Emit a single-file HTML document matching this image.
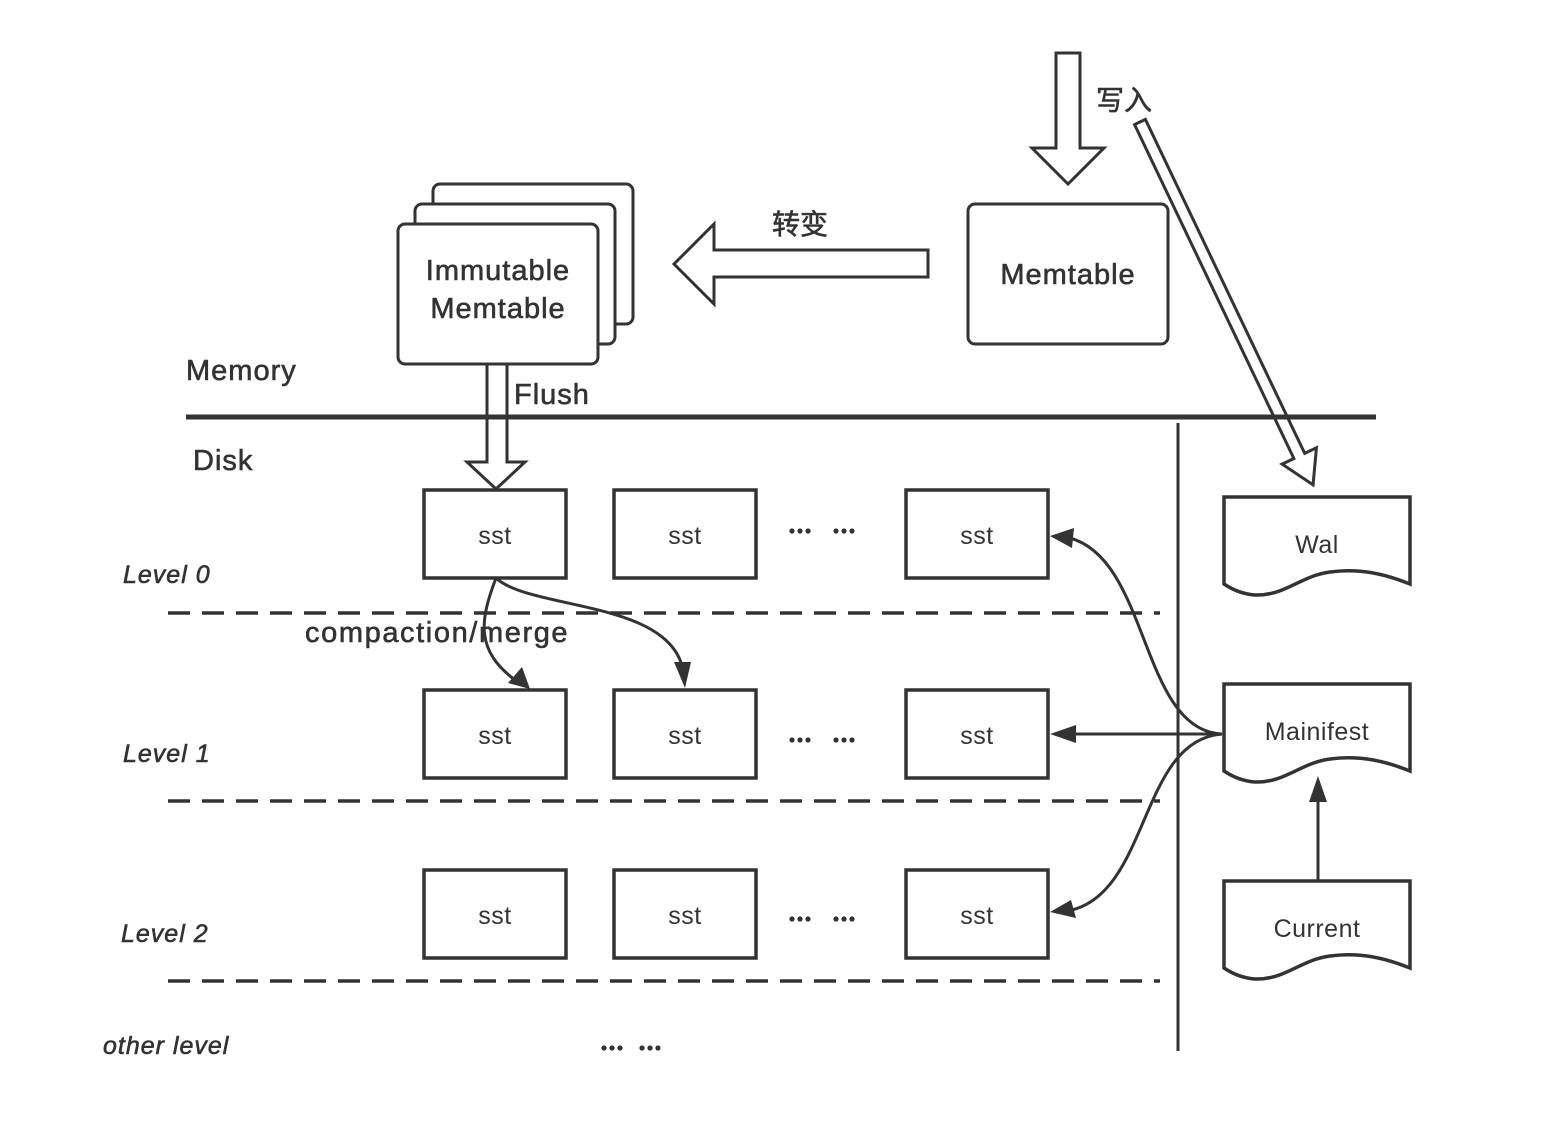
<!DOCTYPE html>
<html><head><meta charset="utf-8"><style>
html,body{margin:0;padding:0;background:#fff;}
svg{display:block;}
text{font-family:"Liberation Sans","Noto Sans CJK SC",sans-serif;fill:#333;}
.b{stroke:#333;stroke-width:0.6px;}
</style></head><body>
<svg width="1542" height="1124" viewBox="0 0 1542 1124" xmlns="http://www.w3.org/2000/svg">
<g fill="none" stroke="#333" stroke-width="3">
<polygon points="1056,53 1080,53 1080,148 1104,148 1068,184 1032,148 1056,148" fill="#fff"/>
<g transform="translate(1140,122) rotate(64.5)">
<polygon points="0,-6 370,-6 370,-19 402,0 370,19 370,6 0,6" fill="#fff"/>
</g>
<rect x="968" y="204" width="200" height="140" rx="7" fill="#fff"/>
<rect x="433" y="184" width="200" height="140" rx="7" fill="#fff"/>
<rect x="415" y="204" width="200" height="140" rx="7" fill="#fff"/>
<rect x="398" y="224" width="200" height="140" rx="7" fill="#fff"/>
<polygon points="928,250 714,250 714,224 674,264 714,304 714,277 928,277" fill="#fff"/>
<polygon points="487,364 507,364 507,462 525,462 496,489 467,462 487,462" fill="#fff"/>
<line x1="186" y1="417" x2="1376" y2="417" stroke-width="5"/>
<line x1="1178" y1="423" x2="1178" y2="1051"/>
<g stroke-dasharray="22,12" stroke-width="3.5">
<line x1="168" y1="613" x2="1160" y2="613"/>
<line x1="168" y1="801" x2="1160" y2="801"/>
<line x1="168" y1="981" x2="1160" y2="981"/>
</g>
<g stroke-width="3.5">
<rect x="424" y="490" width="142" height="88"/>
<rect x="614" y="490" width="142" height="88"/>
<rect x="906" y="490" width="142" height="88"/>
<rect x="424" y="690" width="142" height="88"/>
<rect x="614" y="690" width="142" height="88"/>
<rect x="906" y="690" width="142" height="88"/>
<rect x="424" y="870" width="142" height="88"/>
<rect x="614" y="870" width="142" height="88"/>
<rect x="906" y="870" width="142" height="88"/>
</g>
<path d="M1224,497 H1410 V584 C1385,574 1360,568 1330,572 C1300,576 1285,596 1255,595 C1240,594 1230,588 1224,584 Z" stroke-width="3.5"/>
<path d="M1224,684 H1410 V771 C1385,761 1360,755 1330,759 C1300,763 1285,783 1255,782 C1240,781 1230,775 1224,771 Z" stroke-width="3.5"/>
<path d="M1224,881 H1410 V968 C1385,958 1360,952 1330,956 C1300,960 1285,980 1255,979 C1240,978 1230,972 1224,968 Z" stroke-width="3.5"/>
<line x1="1318" y1="881" x2="1318" y2="800"/>
<line x1="1222" y1="734" x2="1070" y2="734"/>
<path d="M1222,734 C1140,730 1150,560 1070,538"/>
<path d="M1222,734 C1140,740 1150,890 1072,910"/>
<path d="M496,578 C480,620 475,650 515,680"/>
<path d="M496,578 C530,610 670,600 683,670"/>
</g>
<g fill="#333">
<polygon points="1318,776 1309,802 1327,802"/>
<polygon points="1050,734 1076,725 1076,743"/>
<polygon points="1050,536 1074,528 1072,548"/>
<polygon points="1050,912 1071,900 1076,918"/>
<polygon points="530,689 508,683 522,667"/>
<polygon points="685,688 674,662 691,662"/>
<circle cx="792" cy="531" r="2.6"/><circle cx="800" cy="531" r="2.6"/><circle cx="808" cy="531" r="2.6"/>
<circle cx="836" cy="531" r="2.6"/><circle cx="844" cy="531" r="2.6"/><circle cx="852" cy="531" r="2.6"/>
<circle cx="792" cy="740" r="2.6"/><circle cx="800" cy="740" r="2.6"/><circle cx="808" cy="740" r="2.6"/>
<circle cx="836" cy="740" r="2.6"/><circle cx="844" cy="740" r="2.6"/><circle cx="852" cy="740" r="2.6"/>
<circle cx="792" cy="919" r="2.6"/><circle cx="800" cy="919" r="2.6"/><circle cx="808" cy="919" r="2.6"/>
<circle cx="836" cy="919" r="2.6"/><circle cx="844" cy="919" r="2.6"/><circle cx="852" cy="919" r="2.6"/>
<circle cx="604" cy="1048" r="2.6"/><circle cx="612" cy="1048" r="2.6"/><circle cx="620" cy="1048" r="2.6"/>
<circle cx="642" cy="1048" r="2.6"/><circle cx="650" cy="1048" r="2.6"/><circle cx="658" cy="1048" r="2.6"/>
</g>
<g font-size="29" text-anchor="middle" class="b" letter-spacing="1">
<text x="498" y="280">Immutable</text>
<text x="498" y="318">Memtable</text>
<text x="1068" y="284">Memtable</text>
<text x="800" y="234" font-size="28" letter-spacing="0">转变</text>
<text x="1124" y="110" font-size="28" letter-spacing="0">写入</text>
</g>
<g font-size="29" class="b" letter-spacing="1">
<text x="186" y="380">Memory</text>
<text x="193" y="470">Disk</text>
<text x="514" y="404">Flush</text>
<text x="305" y="642" letter-spacing="1.6">compaction/merge</text>
</g>
<g font-size="25" font-style="italic" class="b" letter-spacing="1">
<text x="123" y="583">Level 0</text>
<text x="123" y="762">Level 1</text>
<text x="121" y="942">Level 2</text>
<text x="103" y="1054">other level</text>
</g>
<g font-size="25" text-anchor="middle" letter-spacing="0.5">
<text x="495" y="544">sst</text><text x="685" y="544">sst</text><text x="977" y="544">sst</text>
<text x="495" y="744">sst</text><text x="685" y="744">sst</text><text x="977" y="744">sst</text>
<text x="495" y="924">sst</text><text x="685" y="924">sst</text><text x="977" y="924">sst</text>
<text x="1317" y="553">Wal</text>
<text x="1317" y="740">Mainifest</text>
<text x="1317" y="937">Current</text>
</g>
</svg>
</body></html>
